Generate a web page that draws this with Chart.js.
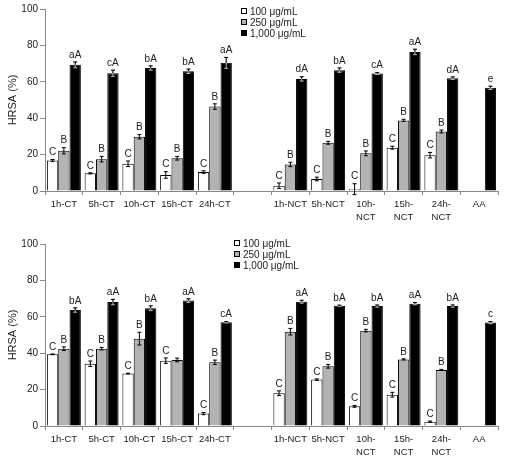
<!DOCTYPE html>
<html>
<head>
<meta charset="utf-8">
<script src="https://cdn.jsdelivr.net/npm/chart.js@4"></script>
<style>
  body { margin:0; background:#fff; font-family:"Liberation Sans", Arial, sans-serif; }
  .wrap { position:relative; width:512px; height:231px; }
  .legend { position:absolute; font-size:10px; color:#222; line-height:11px; }
  .legend div { white-space:nowrap; }
  .legend span { display:inline-block; width:4px; height:4px; border:1px solid #000; margin-right:3px; vertical-align:1px; }
</style>
</head>
<body>
<div class="wrap">
  <canvas id="top" width="512" height="231"></canvas>
  <div class="legend" style="left:241px; top:6px;">
    <div><span style="background:#fff"></span>100 μg/mL</div>
    <div><span style="background:#b3b3b3"></span>250 μg/mL</div>
    <div><span style="background:#000"></span>1,000 μg/mL</div>
  </div>
</div>
<div class="wrap">
  <canvas id="bottom" width="512" height="231"></canvas>
  <div class="legend" style="left:234px; top:7px;">
    <div><span style="background:#fff"></span>100 μg/mL</div>
    <div><span style="background:#b3b3b3"></span>250 μg/mL</div>
    <div><span style="background:#000"></span>1,000 μg/mL</div>
  </div>
</div>
<script>
// ---------- 分类 ----------
const categories = ['1h-CT','5h-CT','10h-CT','15h-CT','24h-CT','','1h-NCT','5h-NCT',['10h-','NCT'],['15h-','NCT'],['24h-','NCT'],'AA'];
const yTicks = [0,20,40,60,80,100];

// ---------- 上图 ----------
const topLow      = [16.8, 9.7, 15.0, 8.8, 10.4, null, 2.9, 6.6, 1.0, 23.8, 19.7, null];
const topLowErr   = [0.5, 0.3, 1.5, 1.8, 0.7, null, 1.5, 1.0, 3.0, 0.8, 1.5, null];
const topMid      = [22.1, 17.5, 29.8, 18.0, 46.4, null, 14.6, 26.5, 20.7, 38.8, 32.7, null];
const topMidErr   = [1.7, 1.5, 1.2, 1.0, 1.5, null, 1.2, 0.8, 1.3, 0.6, 0.8, null];
const topHigh     = [69.3, 64.7, 67.6, 65.8, 70.4, null, 61.6, 66.4, 64.5, 76.4, 62.0, 56.7];
const topHighErr  = [1.6, 1.7, 1.2, 1.2, 3.0, null, 1.2, 1.2, 0.5, 1.5, 0.7, 0.9];
const topLowTxt   = ['C','C','C','C','C','','C','C','C','C','C',''];
const topMidTxt   = ['B','B','B','B','B','','B','B','B','B','B',''];
const topHighTxt  = ['aA','cA','bA','bA','aA','','dA','bA','cA','aA','dA','e'];

// ---------- 下图 ----------
const botLow      = [39.4, 34.2, 28.8, 35.9, 6.8, null, 18.0, 25.5, 10.8, 17.2, 2.4, null];
const botLowErr   = [0.2, 1.5, 0.2, 1.5, 0.6, null, 1.3, 0.4, 0.5, 1.3, 0.3, null];
const botMid      = [42.5, 42.5, 48.0, 36.3, 35.0, null, 51.8, 32.8, 52.4, 36.6, 30.8, null];
const botMidErr   = [1.0, 0.7, 3.5, 1.0, 1.2, null, 1.8, 1.0, 0.7, 0.3, 0.3, null];
const botHigh     = [63.7, 68.1, 64.7, 68.9, 57.0, null, 68.3, 66.1, 65.9, 67.2, 65.9, 56.8];
const botHighErr  = [1.2, 1.5, 1.3, 1.0, 0.3, null, 0.8, 0.3, 0.6, 0.6, 0.6, 0.6];
const botLowTxt   = ['C','C','C','C','C','','C','C','C','C','C',''];
const botMidTxt   = ['B','B','B','','B','','B','B','B','B','B',''];
const botHighTxt  = ['bA','aA','bA','aA','cA','','aA','bA','bA','aA','bA','c'];

const seriesNames = ['100 μg/mL','250 μg/mL','1,000 μg/mL'];
const fills = ['#ffffff','#b3b3b3','#000000'];
const FONT = "'Liberation Sans', Arial, sans-serif";

// 误差线 + 字母
const errPlugin = {
  id:'errLetters',
  afterDatasetsDraw(chart){
    const ctx = chart.ctx, y = chart.scales.y;
    ctx.save();
    chart.data.datasets.forEach((ds,i)=>{
      const meta = chart.getDatasetMeta(i);
      ds.data.forEach((v,j)=>{
        if(v==null) return;
        const bar = meta.data[j];
        const e = ds.errors[j] || 0;
        const yt = y.getPixelForValue(v+e), yb = y.getPixelForValue(v-e);
        ctx.strokeStyle = i===2 ? '#bbb' : '#000';
        ctx.lineWidth = 1;
        ctx.beginPath();
        ctx.moveTo(bar.x, yt); ctx.lineTo(bar.x, yb);
        ctx.moveTo(bar.x-2, yt); ctx.lineTo(bar.x+2, yt);
        ctx.moveTo(bar.x-2, yb); ctx.lineTo(bar.x+2, yb);
        ctx.stroke();
        if(i===2){
          // 黑柱上方的误差线部分
          ctx.strokeStyle = '#000';
          ctx.beginPath();
          ctx.moveTo(bar.x, yt); ctx.lineTo(bar.x, y.getPixelForValue(v));
          ctx.moveTo(bar.x-2, yt); ctx.lineTo(bar.x+2, yt);
          ctx.stroke();
        }
        const t = ds.letters[j];
        if(t){
          ctx.fillStyle = '#222';
          ctx.font = '10px ' + FONT;
          ctx.textAlign = 'center';
          ctx.textBaseline = 'bottom';
          ctx.fillText(t, bar.x, yt-2);
        }
      });
    });
    ctx.restore();
  }
};

function makeChart(id, lows, mids, highs, padTop, xHeight){
  const sets = [lows, mids, highs].map((s,i)=>({
    label: seriesNames[i],
    data: s[0],
    errors: s[1],
    letters: s[2],
    backgroundColor: fills[i],
    borderColor: '#000',
    borderWidth: 1,
    borderSkipped: 'bottom',
    barPercentage: 1.0,
    categoryPercentage: 0.9
  }));
  return new Chart(document.getElementById(id), {
    type:'bar',
    data:{ labels: categories, datasets: sets },
    options:{
      responsive:false,
      animation:false,
      events:[],
      layout:{ padding:{ top:padTop, right:14, left:0, bottom:0 } },
      plugins:{ legend:{display:false}, tooltip:{enabled:false} },
      scales:{
        x:{
          offset:true,
          grid:{ offset:true, drawOnChartArea:false, drawTicks:true, tickLength:4, color:'#888' },
          border:{ color:'#888', width:1 },
          ticks:{ autoSkip:false, maxRotation:0, minRotation:0, padding:3, color:'#222',
                  font:{ family:FONT, size:9.5, lineHeight:1.35 } },
          afterFit(s){ s.height = xHeight; }
        },
        y:{
          min:0, max:100,
          afterBuildTicks(s){ s.ticks = yTicks.map(v=>({value:v})); },
          grid:{ drawOnChartArea:false, tickLength:5, color:'#888' },
          border:{ color:'#888', width:1 },
          ticks:{ padding:2, color:'#222', font:{ family:FONT, size:10 } },
          title:{ display:true, text:'HRSA (%)', color:'#222', padding:{top:6,bottom:0},
                  font:{ family:FONT, size:11 } },
          afterFit(s){ s.width = 45; }
        }
      }
    },
    plugins:[errPlugin]
  });
}

makeChart('top',
  [topLow, topLowErr, topLowTxt],
  [topMid, topMidErr, topMidTxt],
  [topHigh, topHighErr, topHighTxt], 9, 40);

makeChart('bottom',
  [botLow, botLowErr, botLowTxt],
  [botMid, botMidErr, botMidTxt],
  [botHigh, botHighErr, botHighTxt], 13, 36);
</script>
</body>
</html>
